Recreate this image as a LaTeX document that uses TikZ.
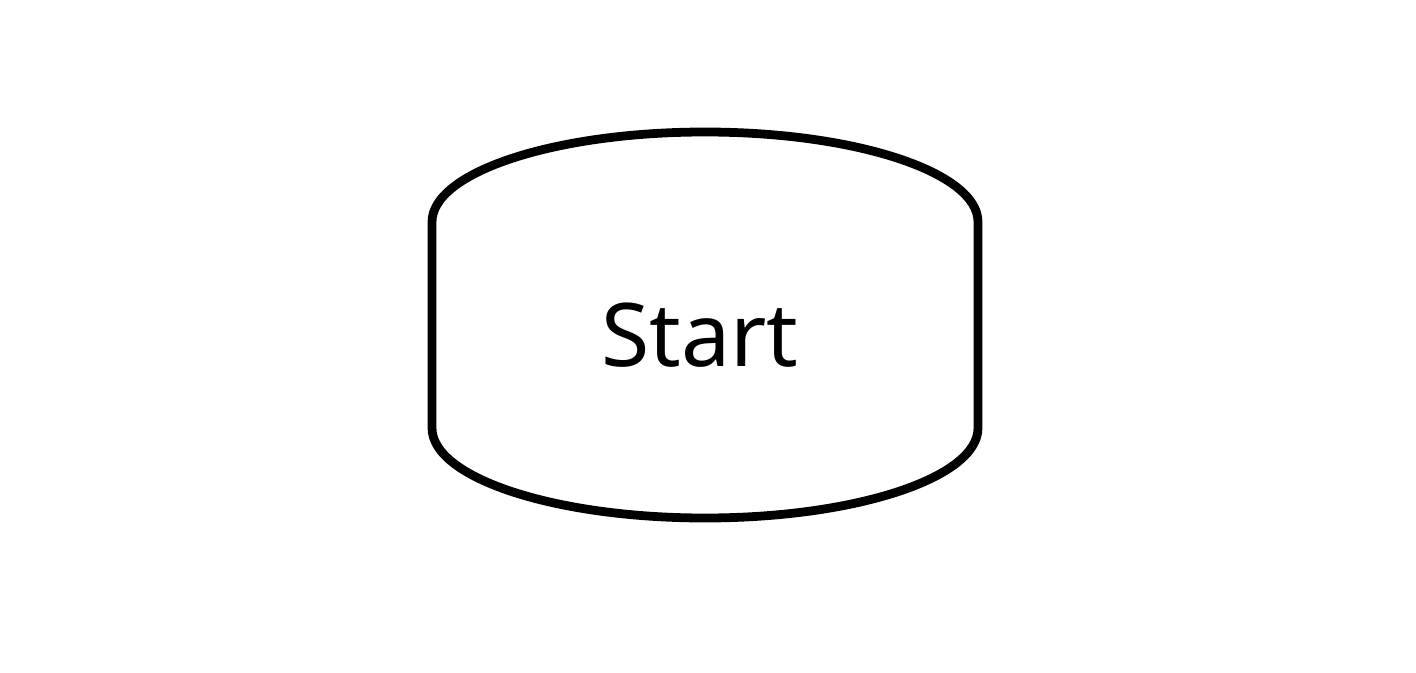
\documentclass[tikz,border=0pt]{standalone}
\usepackage{fontspec}
\setmainfont{Noto Sans}
\begin{document}
\begin{tikzpicture}[terminal/.style={line width=5pt,line join=round},
	labeltext/.style={font=\fontsize{50}{58}\selectfont,inner sep=0pt}]
\useasboundingbox (0,0) rectangle (28.32,13.44);
\draw[terminal] (8.64,4.88) -- (8.64,9.0) arc[start angle=180,end angle=0,x radius=5.46cm,y radius=1.8cm]
	-- (19.56,4.88) arc[start angle=0,end angle=-180,x radius=5.46cm,y radius=1.8cm] -- cycle;
\node[labeltext] (start) at (14.0,6.74) {Start};
\end{tikzpicture}
\end{document}
